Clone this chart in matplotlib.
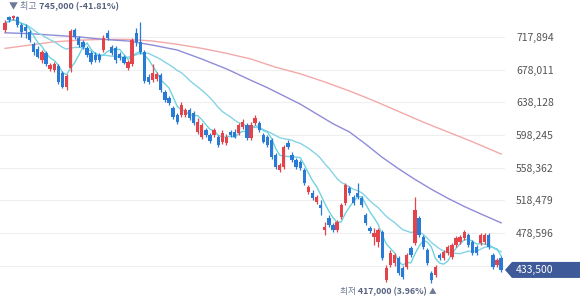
import numpy as np
import pandas as pd
import matplotlib
matplotlib.use('Agg')
import matplotlib.pyplot as plt
from matplotlib.patches import Polygon
from matplotlib.transforms import IdentityTransform

plt.rcParams['font.family'] = ['Noto Sans CJK KR', 'DejaVu Sans']

# 일봉 데이터 (천원 단위, 그림에서 읽은 값)
opens = [726, 742, 741, 742, 732, 730, 724, 709, 703, 690, 698, 679, 678, 682, 674, 657, 680, 726, 717, 712,
         704, 698, 696, 696, 702, 723, 706, 704, 697, 693, 680, 685, 723, 712, 700, 669, 665, 667, 671, 651,
         643, 631, 623, 623, 623, 629, 625, 602, 596, 604, 598, 598, 596, 590, 588, 602, 602, 601, 608, 610,
         595, 613, 613, 598, 596, 592, 574, 555, 559, 588, 574, 568, 565, 555, 529, 527, 516, 513, 482, 497,
         488, 482, 498, 515, 533, 522, 527, 521, 500, 485, 474, 468, 480, 421, 439, 442, 448, 436, 437, 460,
         466, 497, 474, 458, 430, 427, 452, 448, 454, 449, 464, 468, 472, 476, 468, 461, 466, 468, 476, 452,
         439, 448]
highs = [739, 744, 745, 744, 735, 734, 726, 712, 707, 702, 701, 686, 687, 685, 676, 673, 728, 729, 719, 714,
         707, 701, 700, 698, 720, 726, 708, 707, 700, 696, 690, 717, 729, 736, 702, 673, 685, 675, 674, 653,
         646, 634, 625, 638, 631, 631, 627, 619, 613, 607, 601, 607, 598, 604, 599, 604, 605, 613, 618, 613,
         614, 623, 615, 601, 598, 595, 576, 564, 586, 592, 577, 570, 568, 558, 537, 531, 525, 519, 492, 500,
         491, 494, 515, 540, 536, 525, 540, 524, 503, 487, 485, 485, 482, 439, 458, 454, 450, 438, 454, 463,
         522, 499, 476, 460, 432, 439, 454, 458, 464, 466, 475, 476, 482, 479, 470, 464, 479, 479, 479, 454,
         448, 450]
lows = [724, 736, 739, 730, 718, 717, 712, 696, 692, 686, 682, 676, 675, 660, 656, 653, 675, 715, 706, 703,
        693, 685, 687, 687, 700, 714, 696, 686, 690, 685, 678, 682, 707, 697, 662, 660, 663, 664, 651, 638,
        635, 618, 612, 620, 620, 616, 610, 599, 593, 596, 588, 596, 584, 587, 586, 596, 595, 598, 605, 592,
        592, 610, 602, 588, 584, 569, 557, 553, 557, 581, 565, 557, 555, 537, 526, 519, 514, 500, 476, 486,
        480, 480, 496, 513, 525, 513, 520, 510, 488, 479, 464, 461, 446, 419, 437, 438, 427, 422, 435, 449,
        464, 474, 459, 439, 417, 425, 446, 446, 452, 447, 461, 465, 470, 461, 452, 452, 464, 465, 459, 435,
        437, 431]
closes = [735, 739, 743, 732, 724, 725, 714, 700, 693, 700, 685, 684, 685, 663, 657, 670, 725, 718, 708, 706,
          696, 687, 690, 690, 717, 717, 698, 690, 692, 686, 687, 714, 712, 700, 664, 663, 674, 673, 653, 641,
          637, 620, 614, 635, 629, 619, 613, 614, 610, 598, 591, 604, 586, 601, 596, 598, 596, 610, 614, 595,
          610, 619, 604, 590, 586, 571, 559, 562, 584, 584, 568, 559, 558, 540, 535, 521, 522, 509, 486, 488,
          482, 492, 513, 537, 527, 515, 522, 513, 491, 481, 479, 482, 448, 436, 454, 452, 430, 425, 452, 452,
          507, 476, 461, 442, 421, 437, 448, 455, 461, 464, 472, 474, 480, 464, 454, 454, 476, 476, 461, 437,
          446, 433.5]

# 60일 / 120일 이동평균 (그림에서 읽은 점)
ma60_idx = [0, 6, 12, 18, 24, 30, 36, 42, 48, 54, 60, 64, 68, 72, 76, 80, 84, 88, 92, 96, 100, 104, 108,
            112, 116, 121]
ma60_val = [723, 722, 720, 718, 715, 713, 708, 702, 691, 679, 665, 656, 646, 636, 624, 612, 602, 587, 571,
            557, 544, 532, 521, 511, 502, 491]
ma120_idx = [0, 6, 12, 18, 24, 30, 36, 42, 48, 54, 60, 66, 72, 78, 84, 90, 96, 102, 108, 114, 121]
ma120_val = [704, 708, 712, 714, 715, 715, 713, 709, 704, 698, 691, 681, 673, 663, 652, 640, 627, 614, 602,
             590, 575]

yticks = [717894, 678011, 638128, 598245, 558362, 518479, 478596, 438713]

df = pd.DataFrame({'open': opens, 'high': highs, 'low': lows, 'close': closes}) * 1000
df['ma5'] = df['close'].rolling(5, min_periods=1).mean()
df['ma20'] = df['close'].rolling(20, min_periods=1).mean()

UP = '#e3434b'
DOWN = '#2a7bd6'

fig = plt.figure(figsize=(5.8, 2.98), dpi=100)
ax = fig.add_axes([0, 0, 505 / 580, 1])

x = np.arange(len(df))
up = df['close'] >= df['open']
colors = np.where(up, UP, DOWN)

# 이동평균선
ax.plot(ma120_idx, np.array(ma120_val) * 1000, color='#f2a9a9', lw=1.0, zorder=2)
ax.plot(ma60_idx, np.array(ma60_val) * 1000, color='#8e8cd8', lw=1.0, zorder=2)
ax.plot(x, df['ma20'], color='#86d3e6', lw=1.0, zorder=2)
ax.plot(x, df['ma5'], color='#6fd3df', lw=1.0, zorder=2)

# 캔들
ax.vlines(x, df['low'], df['high'], colors=colors, lw=0.9, zorder=3)
body = (df['close'] - df['open']).abs().clip(lower=1000)
ax.bar(x, body, bottom=df[['open', 'close']].min(axis=1), width=0.8, color=colors, zorder=4)

ax.set_xlim(-1.22, 121.95)
ax.set_ylim(399240, 763070)
ax.set_xticks([])
ax.set_yticks(yticks)
ax.set_yticklabels([f'{v:,}' for v in yticks])
ax.yaxis.tick_right()
ax.tick_params(axis='y', length=0, pad=8, labelsize=7.5, labelcolor='#555555')
ax.grid(axis='y', color='#efefef', lw=0.8, zorder=0)
for s in ax.spines.values():
    s.set_visible(False)

# 최고 / 최저 표시
last = df['close'].iloc[-1]
imax = int(df['high'].idxmax())
imin = int(df['low'].idxmin())
hmax = df['high'].max()
lmin = df['low'].min()

t1 = ax.annotate('▼ 최고 ', xy=(imax, hmax), xytext=(-3, 3), textcoords='offset points',
                 ha='left', va='bottom', fontsize=6.5, color='#6c7894')
ax.annotate(f'{hmax:,.0f} ({(last - hmax) / hmax * 100:.2f}%)', xy=(1, 0), xycoords=t1,
            ha='left', va='bottom', fontsize=6.5, color='#56627f', fontweight='bold')

t2 = ax.annotate('▲', xy=(imin, lmin), xytext=(1, -3), textcoords='offset points',
                 ha='center', va='top', fontsize=5.5, color='#6c7894')
t3 = ax.annotate(f'{lmin:,.0f} ({(last - lmin) / lmin * 100:.2f}%) ', xy=(0, 0), xycoords=t2,
                 ha='right', va='bottom', fontsize=6.3, color='#56627f', fontweight='bold')
ax.annotate('최저 ', xy=(0, 0), xycoords=t3, ha='right', va='bottom', fontsize=6.3, color='#6c7894')

# 현재가 라벨
fig.canvas.draw()
yc = ax.transData.transform((0, last))[1]
xr = ax.transAxes.transform((1, 0))[0]
tag = Polygon([(xr, yc), (xr + 7, yc + 8), (580, yc + 8), (580, yc - 8), (xr + 7, yc - 8)],
              closed=True, transform=IdentityTransform(), facecolor='#3e5a98', edgecolor='none', zorder=5)
fig.add_artist(tag)
fig.text(516 / 580, yc / 298, f'{last:,.0f}', color='white', fontsize=7.5, va='center', ha='left', zorder=6)

plt.savefig('out.png', dpi=100)
